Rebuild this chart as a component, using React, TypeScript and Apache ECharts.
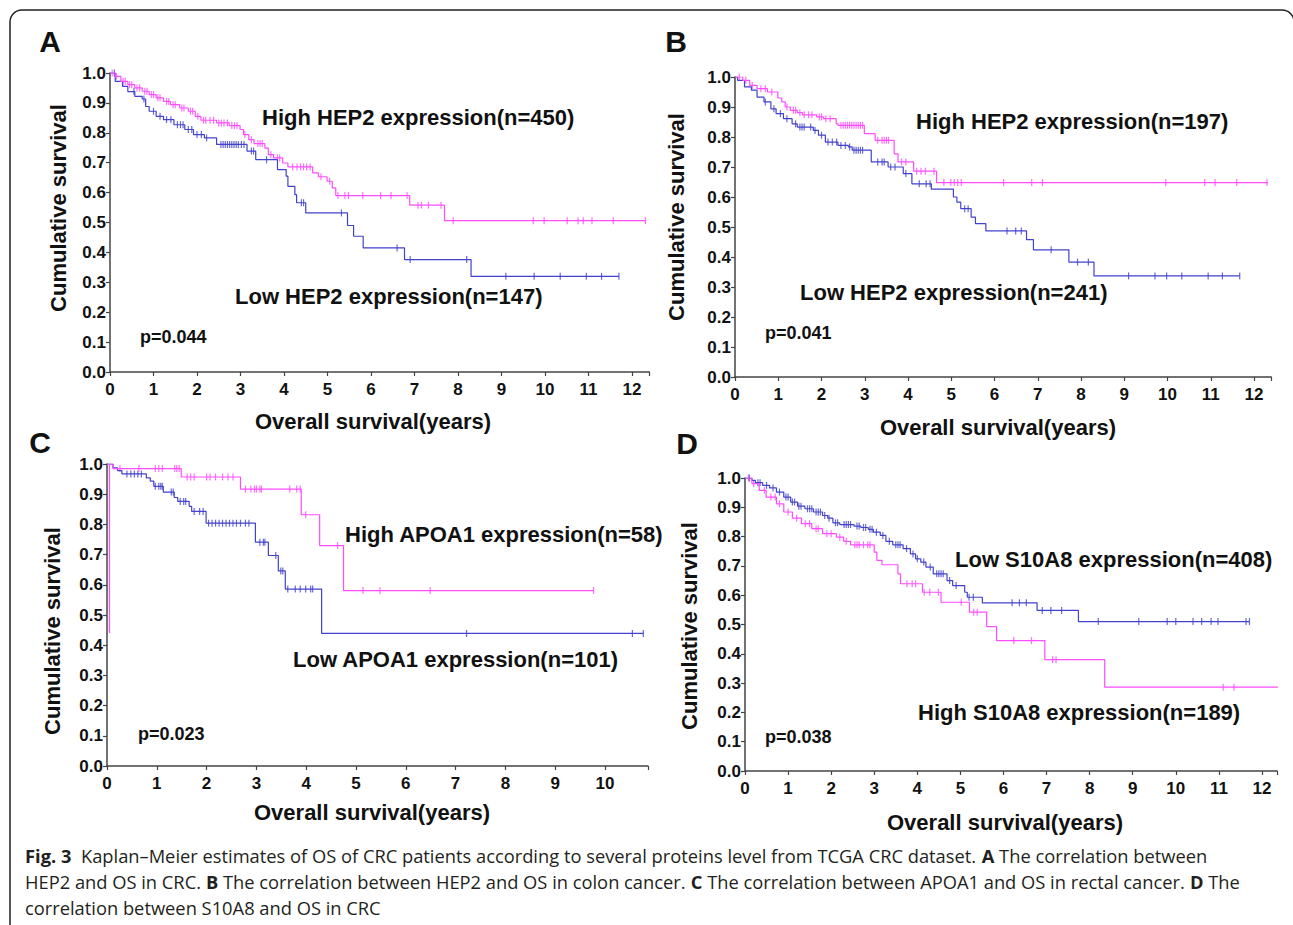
import { useEffect, useRef } from "react";
import * as echarts from "echarts";

// ---------------- Data ----------------
// Panel A: HEP2 in CRC
const aHighT = [0, 0.12, 0.25, 0.41, 0.57, 0.74, 0.9, 1.06, 1.23, 1.39, 1.6, 1.8, 1.96, 2.09, 2.45, 2.74, 2.99, 3.07, 3.19, 3.31, 3.56, 3.64, 3.76, 3.97, 4.09, 4.66, 4.79, 4.99, 5.11, 5.19, 6.89, 7.69, 12.31];
const aHighS = [1.0, 0.989, 0.972, 0.961, 0.95, 0.939, 0.928, 0.917, 0.905, 0.894, 0.883, 0.872, 0.855, 0.842, 0.833, 0.824, 0.811, 0.794, 0.777, 0.764, 0.749, 0.727, 0.716, 0.699, 0.686, 0.666, 0.653, 0.638, 0.616, 0.59, 0.558, 0.506, 0.506];
const aHighC = [0.05, 0.15, 0.3, 0.35, 0.45, 0.5, 0.62, 0.68, 0.8, 0.85, 0.95, 1.0, 1.1, 1.15, 1.3, 1.35, 1.45, 1.5, 1.65, 1.7, 1.85, 1.9, 2.02, 2.15, 2.2, 2.3, 2.38, 2.5, 2.56, 2.62, 2.7, 2.8, 2.86, 2.92, 3.1, 3.25, 3.4, 3.45, 3.5, 3.7, 3.85, 3.9, 4.2, 4.3, 4.38, 4.45, 4.52, 4.6, 4.85, 5.05, 5.24, 5.4, 5.48, 5.81, 6.22, 6.46, 6.83, 7.08, 7.16, 7.32, 7.61, 7.89, 9.73, 9.98, 10.51, 10.76, 10.88, 11.08, 11.57, 12.31];
const aLowT = [0, 0.12, 0.29, 0.41, 0.57, 0.74, 0.82, 0.9, 1.06, 1.23, 1.47, 1.72, 1.92, 2.17, 2.45, 3.15, 3.35, 3.85, 4.05, 4.09, 4.25, 4.29, 4.5, 5.46, 5.6, 5.82, 6.77, 8.3, 11.7];
const aLowS = [1.0, 0.972, 0.955, 0.938, 0.922, 0.913, 0.888, 0.872, 0.855, 0.844, 0.827, 0.811, 0.794, 0.783, 0.761, 0.739, 0.71, 0.677, 0.655, 0.621, 0.593, 0.566, 0.532, 0.49, 0.454, 0.415, 0.376, 0.32, 0.32];
const aLowC = [0.1, 0.55, 0.78, 1.0, 1.15, 1.3, 1.4, 1.55, 1.62, 1.68, 1.8, 1.88, 2.0, 2.1, 2.22, 2.55, 2.6, 2.65, 2.7, 2.75, 2.8, 2.85, 2.9, 2.95, 3.02, 3.08, 3.25, 3.3, 3.6, 4.4, 4.45, 5.32, 6.6, 6.9, 8.2, 9.1, 9.75, 10.35, 10.95, 11.3, 11.7];

// Panel B: HEP2 in colon cancer
const bHighT = [0, 0.18, 0.34, 0.51, 0.75, 0.99, 1.08, 1.16, 1.28, 1.44, 1.56, 1.89, 2.05, 2.34, 2.38, 2.99, 3.24, 3.68, 3.77, 4.13, 4.66, 12.32];
const bHighS = [1.0, 0.989, 0.972, 0.961, 0.95, 0.93, 0.917, 0.9, 0.889, 0.881, 0.874, 0.867, 0.861, 0.844, 0.839, 0.811, 0.789, 0.744, 0.717, 0.686, 0.648, 0.648];
const bHighC = [0.1, 0.25, 0.4, 0.6, 0.7, 0.85, 1.2, 1.35, 1.4, 1.5, 1.6, 1.7, 1.78, 1.95, 2.0, 2.1, 2.2, 2.45, 2.5, 2.55, 2.6, 2.65, 2.7, 2.75, 2.8, 2.85, 2.9, 2.95, 3.3, 3.4, 3.45, 3.5, 3.55, 3.85, 3.95, 4.2, 4.3, 4.4, 4.6, 4.83, 4.99, 5.07, 5.15, 5.23, 6.21, 6.86, 7.11, 9.96, 10.86, 11.1, 11.6, 12.3];
const bLowT = [0, 0.06, 0.22, 0.38, 0.51, 0.67, 0.83, 0.95, 1.12, 1.32, 1.44, 1.81, 1.93, 2.09, 2.38, 2.62, 2.71, 3.15, 3.54, 3.89, 4.09, 4.54, 5.05, 5.13, 5.22, 5.46, 5.56, 5.8, 6.74, 6.9, 7.72, 8.3, 11.67];
const bLowS = [1.0, 0.989, 0.967, 0.956, 0.933, 0.917, 0.894, 0.878, 0.861, 0.844, 0.833, 0.822, 0.806, 0.783, 0.772, 0.767, 0.756, 0.717, 0.7, 0.678, 0.644, 0.626, 0.6, 0.583, 0.561, 0.533, 0.511, 0.487, 0.458, 0.424, 0.383, 0.337, 0.337];
const bLowC = [0.7, 0.9, 1.05, 1.2, 1.4, 1.5, 1.55, 1.6, 1.75, 1.85, 2.0, 2.15, 2.25, 2.35, 2.45, 2.55, 2.65, 2.75, 2.8, 2.85, 2.9, 2.95, 3.3, 3.4, 3.45, 3.6, 3.7, 3.95, 4.26, 4.42, 4.51, 5.31, 5.39, 6.29, 6.49, 6.62, 7.31, 7.92, 8.17, 9.1, 9.71, 9.98, 10.33, 10.94, 11.27, 11.67];

// Panel C: APOA1 in rectal cancer
const cHighT = [0, 0.05, 0.05, 0.12, 1.49, 2.68, 3.9, 4.27, 4.75, 9.77];
const cHighS = [1.0, 0.44, 1.0, 0.985, 0.957, 0.917, 0.832, 0.73, 0.581, 0.581];
const cHighC = [0.26, 0.64, 0.97, 1.04, 1.11, 1.36, 1.4, 1.45, 1.61, 1.68, 1.75, 2.0, 2.07, 2.18, 2.32, 2.43, 2.53, 2.78, 2.89, 2.96, 3.0, 3.07, 3.1, 3.67, 3.81, 3.88, 3.99, 4.63, 5.14, 5.48, 6.49, 9.77];
const cLowT = [0, 0.12, 0.21, 0.3, 0.79, 0.87, 0.94, 1.13, 1.35, 1.42, 1.65, 1.7, 1.99, 2.98, 3.24, 3.44, 3.58, 4.31, 10.77];
const cLowS = [1.0, 0.987, 0.978, 0.967, 0.954, 0.943, 0.926, 0.907, 0.889, 0.876, 0.86, 0.843, 0.804, 0.741, 0.697, 0.646, 0.586, 0.439, 0.439];
const cLowC = [0.4, 0.48, 0.55, 0.62, 0.69, 0.97, 1.04, 1.08, 1.11, 1.29, 1.33, 1.47, 1.54, 1.58, 1.75, 1.86, 1.93, 2.04, 2.11, 2.18, 2.25, 2.32, 2.39, 2.46, 2.53, 2.6, 2.68, 2.78, 2.85, 3.07, 3.14, 3.17, 3.39, 3.49, 3.53, 3.63, 3.78, 3.88, 3.99, 4.09, 4.13, 7.22, 10.55, 10.77];

// Panel D: S10A8 in CRC
const dLowT = [0, 0.16, 0.24, 0.41, 0.57, 0.73, 0.9, 1.06, 1.22, 1.39, 1.59, 1.8, 1.92, 2.04, 2.2, 2.53, 2.69, 2.86, 2.98, 3.14, 3.27, 3.43, 3.67, 3.84, 3.96, 4.08, 4.2, 4.37, 4.69, 4.82, 5.1, 5.16, 5.51, 6.78, 7.74, 11.71];
const dLowS = [1.0, 0.992, 0.984, 0.975, 0.966, 0.952, 0.935, 0.918, 0.904, 0.895, 0.884, 0.872, 0.863, 0.847, 0.841, 0.836, 0.831, 0.825, 0.815, 0.804, 0.784, 0.772, 0.759, 0.741, 0.724, 0.713, 0.696, 0.673, 0.65, 0.633, 0.61, 0.593, 0.574, 0.548, 0.51, 0.51];
const dLowC = [0.1, 0.3, 0.35, 0.5, 0.65, 0.8, 0.95, 1.0, 1.1, 1.15, 1.25, 1.3, 1.45, 1.5, 1.55, 1.65, 1.7, 1.75, 1.85, 1.95, 2.1, 2.15, 2.3, 2.35, 2.4, 2.45, 2.6, 2.65, 2.75, 2.8, 2.9, 2.95, 3.05, 3.2, 3.35, 3.5, 3.55, 3.6, 3.75, 3.9, 4.0, 4.15, 4.3, 4.45, 4.5, 4.55, 4.6, 4.75, 4.9, 5.2, 5.3, 6.2, 6.37, 6.53, 6.9, 7.1, 7.35, 8.2, 9.14, 9.8, 10.0, 10.4, 10.6, 10.82, 10.98, 11.63, 11.71];
const dHighT = [0, 0.16, 0.33, 0.49, 0.73, 0.9, 1.1, 1.31, 1.55, 1.8, 2.12, 2.29, 2.45, 3.0, 3.06, 3.18, 3.55, 3.61, 4.12, 4.55, 5.21, 5.61, 5.84, 6.96, 8.35, 12.37];
const dHighS = [1.0, 0.981, 0.958, 0.935, 0.912, 0.884, 0.863, 0.844, 0.827, 0.81, 0.798, 0.784, 0.772, 0.747, 0.719, 0.704, 0.673, 0.639, 0.61, 0.576, 0.542, 0.493, 0.445, 0.38, 0.286, 0.286];
const dHighC = [0.08, 0.2, 0.45, 0.6, 0.7, 0.8, 1.0, 1.2, 1.4, 1.5, 1.65, 1.7, 1.9, 2.0, 2.2, 2.35, 2.55, 2.6, 2.65, 2.75, 2.85, 2.9, 3.76, 3.88, 3.96, 4.16, 4.29, 4.49, 5.02, 5.31, 5.39, 6.24, 6.65, 7.14, 7.22, 11.1, 11.35, 12.37];

// Texts
const panelLetters = ["A", "B", "C", "D"];
const pValues = ["p=0.044", "p=0.041", "p=0.023", "p=0.038"];
const pinkLabels = ["High HEP2 expression(n=450)", "High HEP2 expression(n=197)", "High APOA1 expression(n=58)", "High S10A8 expression(n=189)"];
const blueLabels = ["Low HEP2 expression(n=147)", "Low HEP2 expression(n=241)", "Low APOA1 expression(n=101)", "Low S10A8 expression(n=408)"];
const yTitle = "Cumulative survival";
const xTitle = "Overall survival(years)";
const caption1 = [
  { b: true, t: "Fig. 3" },
  { b: false, t: "  Kaplan–Meier estimates of OS of CRC patients according to several proteins level from TCGA CRC dataset. " },
  { b: true, t: "A" },
  { b: false, t: " The correlation between" },
];
const caption2 = [
  { b: false, t: "HEP2 and OS in CRC. " },
  { b: true, t: "B" },
  { b: false, t: " The correlation between HEP2 and OS in colon cancer. " },
  { b: true, t: "C" },
  { b: false, t: " The correlation between APOA1 and OS in rectal cancer. " },
  { b: true, t: "D" },
  { b: false, t: " The" },
];
const caption3 = [{ b: false, t: "correlation between S10A8 and OS in CRC" }];

// ---------------- Layout ----------------
const PINK = "#ff4cff";
const BLUE = "#4242cc";
const FONT = "'Liberation Sans', Arial, sans-serif";
const CAP_FONT = "'Open Sans', 'Noto Sans', sans-serif";

const panels = [
  { high: [aHighT, aHighS, aHighC], low: [aLowT, aLowS, aLowC], left: 110, top: 73, height: 299, xMax: 12.4, ppy: 43.5,
    letter: [50, 41], yT: [58, 208], xT: [373, 421], p: [140, 337], pink: [262, 117], blue: [235, 296] },
  { high: [bHighT, bHighS, bHighC], low: [bLowT, bLowS, bLowC], left: 735, top: 77, height: 300, xMax: 12.4, ppy: 43.25,
    letter: [676, 41], yT: [676, 217], xT: [998, 427], p: [765, 333], pink: [916, 121], blue: [800, 292] },
  { high: [cHighT, cHighS, cHighC], low: [cLowT, cLowS, cLowC], left: 107, top: 464, height: 302, xMax: 10.86, ppy: 49.8,
    letter: [40, 442], yT: [52, 631], xT: [372, 812], p: [138, 734], pink: [345, 534], blue: [293, 659] },
  { high: [dHighT, dHighS, dHighC], low: [dLowT, dLowS, dLowC], left: 745, top: 478, height: 293, xMax: 12.35, ppy: 43.08,
    letter: [687, 443], yT: [689, 626], xT: [1005, 822], p: [765, 737], pink: [918, 712], blue: [955, 559] },
];

function stepPoints(t: number[], s: number[]) {
  return t.map((v, i) => [v, s[i]]);
}
function censorPoints(c: number[], t: number[], s: number[]) {
  return c.map((x) => {
    let y = s[0];
    for (let i = 0; i < t.length; i++) if (t[i] <= x + 1e-9) y = s[i];
    return [x, y];
  });
}

function measure(parts: { b: boolean; t: string }[], size: number) {
  const ctx = document.createElement("canvas").getContext("2d");
  if (!ctx) return 1;
  let w = 0;
  for (const p of parts) {
    ctx.font = `${p.b ? "bold" : "normal"} ${size}px ${CAP_FONT}`;
    w += ctx.measureText(p.t).width;
  }
  return w;
}

function richText(parts: { b: boolean; t: string }[]) {
  return parts.map((p) => `{${p.b ? "b" : "r"}|${p.t}}`).join("");
}

export default function App() {
  const ref = useRef<HTMLDivElement>(null);
  useEffect(() => {
    if (!ref.current) return;
    const chart = echarts.init(ref.current, undefined, { renderer: "svg" });

    const grids: any[] = [];
    const xAxes: any[] = [];
    const yAxes: any[] = [];
    const series: any[] = [];
    const graphics: any[] = [];

    panels.forEach((p, i) => {
      grids.push({ left: p.left, top: p.top, width: p.xMax * p.ppy, height: p.height, containLabel: false });
      xAxes.push({
        type: "value", gridIndex: i, min: 0, max: p.xMax, interval: 1,
        splitLine: { show: false },
        axisLine: { lineStyle: { color: "#444", width: 1.5 } },
        axisTick: { show: true, length: 4, lineStyle: { color: "#444", width: 1.2 } },
        axisLabel: {
          color: "#111", fontWeight: "bold", fontSize: 17, fontFamily: FONT, margin: 9,
          formatter: (v: number) => (Math.abs(v - Math.round(v)) < 1e-6 ? String(Math.round(v)) : ""),
        },
      });
      yAxes.push({
        type: "value", gridIndex: i, min: 0, max: 1, interval: 0.1,
        splitLine: { show: false },
        axisLine: { show: true, onZero: false, lineStyle: { color: "#444", width: 1.5 } },
        axisTick: { show: true, length: 4, lineStyle: { color: "#444", width: 1.2 } },
        axisLabel: {
          color: "#111", fontWeight: "bold", fontSize: 17, fontFamily: FONT, margin: 4,
          formatter: (v: number) => v.toFixed(1),
        },
      });
      const [lt, ls, lc] = p.low as number[][];
      const [ht, hs, hc] = p.high as number[][];
      series.push({
        type: "line", xAxisIndex: i, yAxisIndex: i, step: "end", symbol: "none", silent: true,
        data: stepPoints(lt, ls), lineStyle: { color: BLUE, width: 1.2 },
      });
      series.push({
        type: "line", xAxisIndex: i, yAxisIndex: i, step: "end", symbol: "none", silent: true,
        data: stepPoints(ht, hs), lineStyle: { color: PINK, width: 1.2 },
      });
      series.push({
        type: "scatter", xAxisIndex: i, yAxisIndex: i, symbol: "rect", symbolSize: [1.2, 7], silent: true,
        data: censorPoints(lc, lt, ls), itemStyle: { color: BLUE },
      });
      series.push({
        type: "scatter", xAxisIndex: i, yAxisIndex: i, symbol: "rect", symbolSize: [1.2, 7], silent: true,
        data: censorPoints(hc, ht, hs), itemStyle: { color: PINK },
      });

      const txt = (x: number, y: number, text: string, size: number, align = "left", extra: any = {}) => ({
        type: "text", x, y, silent: true, ...extra,
        style: { text, fill: "#111", fontSize: size, fontWeight: "bold", fontFamily: FONT, align, verticalAlign: "middle" },
      });
      graphics.push(txt(p.letter[0], p.letter[1], panelLetters[i], 30, "center"));
      graphics.push(txt(p.yT[0], p.yT[1], yTitle, 22, "center", { rotation: Math.PI / 2 }));
      graphics.push(txt(p.xT[0], p.xT[1], xTitle, 22, "center"));
      graphics.push(txt(p.p[0], p.p[1], pValues[i], 18));
      graphics.push(txt(p.pink[0], p.pink[1], pinkLabels[i], 22));
      graphics.push(txt(p.blue[0], p.blue[1], blueLabels[i], 22));
    });

    // caption
    const capSize = 18.5;
    const natural = measure(caption1, capSize);
    const scale = natural > 0 ? 1182 / natural : 1;
    const capRich = {
      r: { fontSize: capSize, fontFamily: CAP_FONT, fontWeight: "normal", fill: "#231f20" },
      b: { fontSize: capSize, fontFamily: CAP_FONT, fontWeight: "bold", fill: "#231f20" },
    };
    [caption1, caption2, caption3].forEach((parts, k) => {
      graphics.push({
        type: "text", x: 25, y: 855 + k * 26, scaleX: scale, silent: true,
        style: { text: richText(parts), rich: capRich, fontSize: capSize, fontFamily: CAP_FONT, fill: "#231f20", align: "left", verticalAlign: "middle" },
      });
    });

    // figure frame
    graphics.push({
      type: "rect", silent: true, z: -1,
      shape: { x: 10, y: 10, width: 1284, height: 1000, r: 12 },
      style: { fill: "none", stroke: "#222", lineWidth: 1.5 },
    });

    chart.setOption({
      animation: false,
      backgroundColor: "#fff",
      textStyle: { fontFamily: FONT },
      grid: grids,
      xAxis: xAxes,
      yAxis: yAxes,
      series,
      graphic: graphics,
    });
    return () => chart.dispose();
  }, []);
  return <div ref={ref} style={{ position: "absolute", left: 0, top: 0, width: 1293, height: 925 }} />;
}
